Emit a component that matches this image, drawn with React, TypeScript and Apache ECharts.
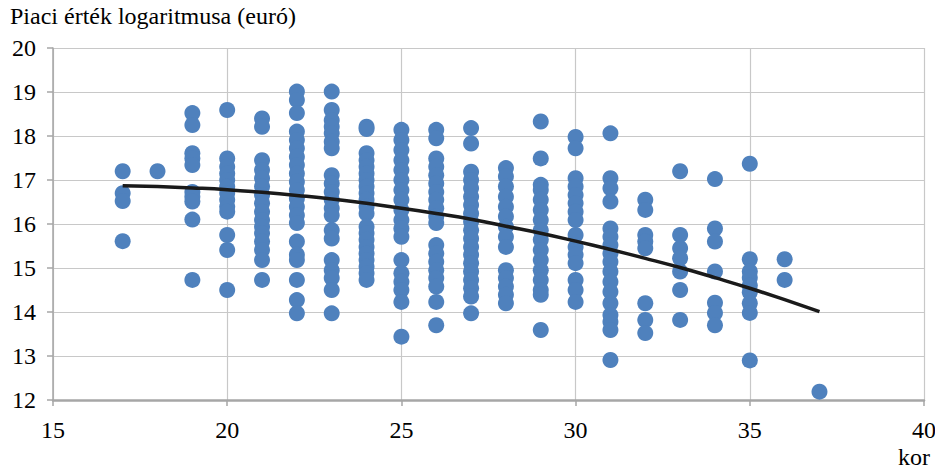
import React, { useEffect, useRef } from "react";
import * as echarts from "echarts";

const yTitle = "Piaci érték logaritmusa (euró)";
const xTitle = "kor";

const xTicks = [15, 20, 25, 30, 35, 40];
const yTicks = [12, 13, 14, 15, 16, 17, 18, 19, 20];

const age17 = [17.2, 16.7, 16.52, 15.61];
const age18 = [17.2];
const age19 = [18.52, 18.25, 17.61, 17.49, 17.34, 16.73, 16.62, 16.51, 16.1, 14.73];
const age20 = [18.59, 17.49, 17.3, 17.15, 17.0, 16.85, 16.7, 16.55, 16.39, 16.28, 15.75, 15.41, 14.5];
const age21 = [18.4, 18.21, 17.45, 17.23, 17.04, 16.85, 16.66, 16.47, 16.28, 16.09, 15.94, 15.79, 15.6, 15.41, 15.18, 14.73];
const age22 = [19.01, 18.82, 18.52, 18.1, 17.91, 17.72, 17.53, 17.34, 17.15, 16.96, 16.77, 16.58, 16.39, 16.2, 16.02, 15.6, 15.3, 15.18, 14.73, 14.27, 13.97];
const age23 = [19.01, 18.59, 18.36, 18.21, 18.06, 17.87, 17.72, 17.11, 16.92, 16.73, 16.55, 16.36, 16.2, 15.86, 15.67, 15.18, 14.95, 14.77, 14.5, 13.97];
const age24 = [18.21, 18.16, 17.61, 17.45, 17.3, 17.15, 17.0, 16.85, 16.7, 16.55, 16.39, 16.24, 15.94, 15.79, 15.64, 15.48, 15.33, 15.18, 15.03, 14.88, 14.73];
const age25 = [18.14, 17.91, 17.68, 17.45, 17.23, 17.0, 16.77, 16.55, 16.32, 16.09, 15.9, 15.71, 15.18, 14.88, 14.69, 14.5, 14.23, 13.44];
const age26 = [18.14, 17.95, 17.49, 17.3, 17.11, 16.92, 16.73, 16.55, 16.36, 16.17, 16.02, 15.52, 15.33, 15.14, 14.95, 14.77, 14.58, 14.23, 13.7];
const age27 = [18.18, 17.83, 17.19, 17.0, 16.81, 16.62, 16.43, 16.24, 16.05, 15.86, 15.67, 15.48, 15.3, 15.11, 14.92, 14.73, 14.54, 14.35, 13.97];
const age28 = [17.27, 17.08, 16.85, 16.62, 16.39, 16.17, 15.94, 15.71, 15.48, 14.95, 14.77, 14.58, 14.39, 14.2];
const age29 = [18.33, 17.49, 16.89, 16.77, 16.55, 16.32, 16.09, 15.86, 15.64, 15.41, 15.18, 14.95, 14.73, 14.5, 14.39, 13.59];
const age30 = [17.98, 17.72, 17.04, 16.85, 16.66, 16.47, 16.28, 16.09, 15.75, 15.48, 15.3, 15.11, 14.73, 14.5, 14.23];
const age31 = [18.06, 17.04, 16.81, 16.51, 15.9, 15.71, 15.52, 15.33, 15.14, 14.92, 14.69, 14.46, 14.2, 13.93, 13.78, 13.59, 12.91];
const age32 = [16.55, 16.32, 15.75, 15.6, 15.45, 14.2, 13.82, 13.52];
const age33 = [17.2, 15.75, 15.45, 15.22, 14.92, 14.5, 13.82];
const age34 = [17.02, 15.9, 15.6, 14.92, 14.21, 13.98, 13.7];
const age35 = [17.37, 15.2, 14.92, 14.78, 14.6, 14.45, 14.2, 13.98, 12.9];
const age36 = [15.2, 14.73];
const age37 = [12.19];

const columnAges = [17, 18, 19, 20, 21, 22, 23, 24, 25, 26, 27, 28, 29, 30, 31, 32, 33, 34, 35, 36, 37];
const columnValues = [age17, age18, age19, age20, age21, age22, age23, age24, age25, age26, age27, age28, age29, age30, age31, age32, age33, age34, age35, age36, age37];

const trendAges = [17, 18, 19, 20, 21, 22, 23, 24, 25, 26, 27, 28, 29, 30, 31, 32, 33, 34, 35, 36, 37];
const trendValues = [16.87, 16.85, 16.82, 16.78, 16.72, 16.65, 16.57, 16.47, 16.36, 16.24, 16.11, 15.95, 15.79, 15.61, 15.42, 15.22, 15.01, 14.78, 14.54, 14.28, 14.01];

const FONT = '"Times New Roman", "Liberation Serif", "DejaVu Serif", serif';

export default function App() {
  const ref = useRef<HTMLDivElement>(null);

  useEffect(() => {
    if (!ref.current) return;
    const chart = echarts.init(ref.current, null, { renderer: "svg" });

    const scatterData: number[][] = [];
    columnAges.forEach((age, i) => {
      columnValues[i].forEach((v) => scatterData.push([age, v]));
    });
    const trendData = trendAges.map((a, i) => [a, trendValues[i]]);

    chart.setOption({
      animation: false,
      backgroundColor: "#ffffff",
      textStyle: { fontFamily: FONT },
      grid: {
        left: 53,
        right: 11,
        top: 48,
        bottom: 70,
        containLabel: false,
        outerBoundsMode: "none",
      },
      xAxis: {
        type: "value",
        min: xTicks[0],
        max: xTicks[xTicks.length - 1],
        interval: 5,
        axisLine: { show: true, lineStyle: { color: "#A6A6A6", width: 2.5 } },
        axisTick: { show: true, length: 6, lineStyle: { color: "#A6A6A6", width: 1.5 } },
        axisLabel: { fontFamily: FONT, fontSize: 24, color: "#000", margin: 18 },
        splitLine: { show: true, lineStyle: { color: "#C8C8C8", width: 1.2 } },
      },
      yAxis: {
        type: "value",
        min: yTicks[0],
        max: yTicks[yTicks.length - 1],
        interval: 1,
        axisLine: { show: true, lineStyle: { color: "#A6A6A6", width: 1.5 } },
        axisTick: { show: true, length: 6, lineStyle: { color: "#A6A6A6", width: 1.5 } },
        axisLabel: { fontFamily: FONT, fontSize: 24, color: "#000", margin: 17 },
        splitLine: { show: true, lineStyle: { color: "#C8C8C8", width: 1.2 } },
      },
      graphic: [
        {
          type: "text",
          left: 10,
          top: 4,
          style: { text: yTitle, fontFamily: FONT, fontSize: 24, fill: "#000" },
        },
        {
          type: "text",
          right: 5,
          top: 445,
          style: { text: xTitle, fontFamily: FONT, fontSize: 24, fill: "#000" },
        },
      ],
      series: [
        {
          type: "scatter",
          data: scatterData,
          symbol: "circle",
          symbolSize: 16,
          itemStyle: { color: "#4F81BD", opacity: 1 },
          z: 2,
        },
        {
          type: "line",
          data: trendData,
          smooth: true,
          showSymbol: false,
          symbol: "none",
          lineStyle: { color: "#1A1A1A", width: 3.5 },
          z: 3,
        },
      ],
    });

    return () => chart.dispose();
  }, []);

  return <div ref={ref} style={{ width: 935, height: 470, position: "absolute", left: 0, top: 0 }} />;
}
